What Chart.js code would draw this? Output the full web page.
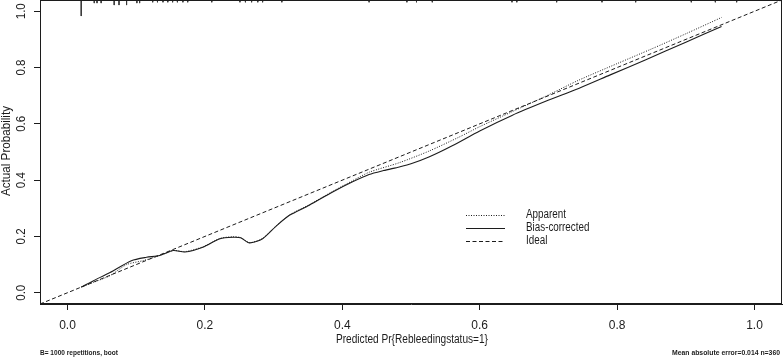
<!DOCTYPE html>
<html>
<head>
<meta charset="utf-8">
<script src="https://cdn.jsdelivr.net/npm/chart.js@4.4.1/dist/chart.umd.min.js"></script>
<style>
  html, body { margin: 0; padding: 0; background: #fff; }
  #wrap { width: 783px; height: 358px; }
</style>
</head>
<body>
<div id="wrap"><canvas id="calChart" width="783" height="358"></canvas></div>
<script>
const FONT = '"Liberation Sans", Arial, sans-serif';
const INK = '#1c1c1c';

// Apparent calibration curve
const apparentX = [0.020, 0.038, 0.062, 0.086, 0.110, 0.134, 0.154, 0.171, 0.197, 0.222, 0.241, 0.252, 0.265, 0.284, 0.303, 0.323, 0.352, 0.386, 0.415, 0.439, 0.483, 0.526, 0.570, 0.600, 0.647, 0.696, 0.744, 0.800, 0.850, 0.900, 0.952];
const apparentY = [0.020, 0.037, 0.061, 0.100, 0.114, 0.132, 0.150, 0.146, 0.163, 0.193, 0.199, 0.196, 0.178, 0.193, 0.236, 0.276, 0.313, 0.360, 0.398, 0.428, 0.462, 0.503, 0.553, 0.590, 0.643, 0.698, 0.755, 0.814, 0.866, 0.920, 0.978];

// Bias-corrected calibration curve
const biasX = [0.020, 0.038, 0.062, 0.093, 0.115, 0.134, 0.154, 0.171, 0.197, 0.222, 0.241, 0.252, 0.265, 0.284, 0.303, 0.323, 0.352, 0.386, 0.415, 0.439, 0.460, 0.483, 0.500, 0.526, 0.560, 0.600, 0.647, 0.696, 0.744, 0.790, 0.841, 0.900, 0.952];
const biasY = [0.020, 0.043, 0.072, 0.114, 0.126, 0.132, 0.150, 0.145, 0.162, 0.192, 0.197, 0.195, 0.177, 0.192, 0.235, 0.275, 0.311, 0.358, 0.394, 0.420, 0.434, 0.447, 0.458, 0.482, 0.522, 0.575, 0.630, 0.680, 0.726, 0.774, 0.827, 0.890, 0.946];

// rug of predicted probabilities along the top, with mark lengths
const rugX = [0.020, 0.039, 0.043, 0.049, 0.068, 0.075, 0.086, 0.101, 0.105, 0.124, 0.131, 0.139, 0.146, 0.153, 0.160, 0.168, 0.175, 0.210, 0.251, 0.259, 0.268, 0.277, 0.284, 0.312, 0.439, 0.494, 0.508, 0.531, 0.647, 0.654, 0.712, 0.778, 0.827, 0.908, 0.943, 0.974];
const rugLen = [0.057, 0.011, 0.011, 0.011, 0.018, 0.018, 0.018, 0.011, 0.011, 0.008, 0.008, 0.008, 0.008, 0.008, 0.008, 0.008, 0.008, 0.008, 0.008, 0.008, 0.008, 0.008, 0.008, 0.008, 0.008, 0.008, 0.008, 0.008, 0.008, 0.008, 0.008, 0.008, 0.008, 0.008, 0.008, 0.008];

const xTicks = [0, 0.2, 0.4, 0.6, 0.8, 1.0];
const yTicks = [0, 0.2, 0.4, 0.6, 0.8, 1.0];
const axisMin = -0.04;
const axisMax = 1.04;

const xTitle = 'Predicted Pr{Rebleedingstatus=1}';
const yTitle = 'Actual Probability';
const legendNames = ['Apparent', 'Bias-corrected', 'Ideal'];
const footLeft = 'B= 1000 repetitions, boot';
const footRight = 'Mean absolute error=0.014 n=360';

const pts = (xs, ys) => xs.map((x, i) => ({ x: x, y: ys[i] }));

// rug as separate little segments, broken by null points
const rugData = [];
rugX.forEach((x, i) => {
  rugData.push({ x: x, y: axisMax }, { x: x, y: axisMax - rugLen[i] }, { x: x, y: null });
});

// the original uses a narrow face, so squeeze text to its measured width
function squeezed(ctx, text, x, y, width, align, angle) {
  const w = ctx.measureText(text).width;
  const k = Math.min(1, width / w);
  ctx.save();
  ctx.translate(x, y);
  if (angle) ctx.rotate(angle);
  ctx.scale(k, 1);
  ctx.textAlign = align;
  ctx.fillText(text, 0, 0);
  ctx.restore();
}

// box, rotated y labels, titles, legend and footnotes
const extras = {
  id: 'extras',
  afterDraw(chart) {
    const ctx = chart.ctx;
    const a = chart.chartArea;
    const ys = chart.scales.y;
    ctx.save();
    ctx.strokeStyle = INK;
    ctx.lineWidth = 1;
    ctx.strokeRect(a.left + 0.5, a.top + 0.5, a.right - a.left - 1, a.bottom - a.top - 1);

    ctx.fillStyle = INK;
    ctx.font = '12px ' + FONT;
    ctx.textBaseline = 'middle';
    yTicks.forEach(v => {
      squeezed(ctx, v.toFixed(1), 22, ys.getPixelForValue(v), 16, 'center', -Math.PI / 2);
    });

    squeezed(ctx, xTitle, 412, 340, 152, 'center', 0);
    squeezed(ctx, yTitle, 7, 151, 90, 'center', -Math.PI / 2);

    // legend
    const sets = chart.data.datasets;
    ctx.font = '12px ' + FONT;
    legendNames.forEach((name, i) => {
      const ly = 215 + i * 13;
      const ds = sets[i];
      ctx.setLineDash(ds.borderDash || []);
      ctx.beginPath();
      ctx.moveTo(466, ly + 0.5);
      ctx.lineTo(505, ly + 0.5);
      ctx.stroke();
      ctx.setLineDash([]);
      squeezed(ctx, name, 526, ly, ctx.measureText(name).width * 0.82, 'left', 0);
    });

    ctx.font = 'bold 8px ' + FONT;
    ctx.textBaseline = 'alphabetic';
    squeezed(ctx, footLeft, 40, 355, 78, 'left', 0);
    squeezed(ctx, footRight, 780, 355, 108, 'right', 0);
    ctx.restore();
  }
};

new Chart(document.getElementById('calChart').getContext('2d'), {
  type: 'scatter',
  data: {
    datasets: [
      { label: 'Apparent', data: pts(apparentX, apparentY), showLine: true, borderColor: INK, borderWidth: 1, borderDash: [1, 1.5], pointRadius: 0, tension: 0.25 },
      { label: 'Bias-corrected', data: pts(biasX, biasY), showLine: true, borderColor: INK, borderWidth: 1.1, pointRadius: 0, tension: 0.25 },
      { label: 'Ideal', data: pts([axisMin, axisMax], [axisMin, axisMax]), showLine: true, borderColor: INK, borderWidth: 1, borderDash: [4, 2.5], pointRadius: 0 },
      { label: 'rug', data: rugData, showLine: true, spanGaps: false, borderColor: '#3a3a3a', borderWidth: 1, pointRadius: 0 }
    ]
  },
  options: {
    responsive: false,
    animation: false,
    devicePixelRatio: 1,
    layout: { padding: { top: 0, right: 1, left: 0, bottom: 0 } },
    plugins: { legend: { display: false }, tooltip: { enabled: false } },
    scales: {
      x: {
        type: 'linear', min: axisMin, max: axisMax,
        afterBuildTicks: s => { s.ticks = xTicks.map(v => ({ value: v })); },
        afterFit: s => { s.height = 54; },
        grid: { drawOnChartArea: false, drawTicks: true, tickLength: 6, color: INK },
        border: { display: true, color: INK },
        ticks: { color: INK, font: { family: FONT, size: 12 }, padding: 8, maxRotation: 0, callback: v => v.toFixed(1) },
        title: { display: false }
      },
      y: {
        type: 'linear', min: axisMin, max: axisMax,
        afterBuildTicks: s => { s.ticks = yTicks.map(v => ({ value: v })); },
        afterFit: s => { s.width = 40; },
        grid: { drawOnChartArea: false, drawTicks: true, tickLength: 6, color: INK },
        border: { display: true, color: INK },
        ticks: { display: false },
        title: { display: false }
      }
    }
  },
  plugins: [extras]
});
</script>
</body>
</html>
